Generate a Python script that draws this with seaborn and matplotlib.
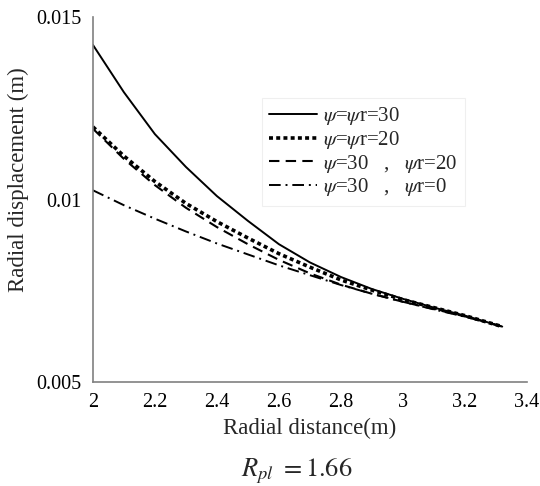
import numpy as np
import pandas as pd
import seaborn as sns
import matplotlib
matplotlib.use('Agg')
import matplotlib.pyplot as plt

# values
r = [2.0, 2.1, 2.2, 2.3, 2.4, 2.5, 2.6, 2.7, 2.8, 2.9, 3.0, 3.1, 3.2, 3.32]
u_30_30 = [0.01425, 0.01295, 0.01180, 0.01090, 0.01010, 0.00942, 0.00878, 0.00828,
           0.00788, 0.00755, 0.00728, 0.00704, 0.00682, 0.00652]
u_20_20 = [0.01200, 0.01120, 0.01050, 0.00990, 0.00940, 0.00895, 0.00852, 0.00815,
           0.00780, 0.00752, 0.00726, 0.00704, 0.00682, 0.00652]
u_30_20 = [0.01195, 0.01112, 0.01040, 0.00978, 0.00925, 0.00878, 0.00835, 0.00798,
           0.00767, 0.00742, 0.00720, 0.00700, 0.00680, 0.00652]
u_30_0 = [0.01026, 0.00985, 0.00948, 0.00913, 0.00880, 0.00850, 0.00820, 0.00793,
          0.00766, 0.00742, 0.00720, 0.00699, 0.00679, 0.00652]

labels = [r'$\psi$=$\psi$r=30', r'$\psi$=$\psi$r=20',
          r'$\psi$=30   ,   $\psi$r=20', r'$\psi$=30   ,   $\psi$r=0']
x_ticks = [2, 2.2, 2.4, 2.6, 2.8, 3, 3.2, 3.4]
x_ticklabels = ['2', '2.2', '2.4', '2.6', '2.8', '3', '3.2', '3.4']
y_ticks = [0.005, 0.01, 0.015]
y_ticklabels = ['0.005', '0.01', '0.015']

sns.set_style('white')
plt.rcParams['font.family'] = ['Liberation Serif', 'DejaVu Serif']
plt.rcParams['mathtext.fontset'] = 'stix'

fig = plt.figure(figsize=(5.4, 4.86), dpi=100)
ax = fig.add_axes([0.172, 0.214, 0.804, 0.75])

styles = [
    dict(linestyle='-', linewidth=1.4),
    dict(linestyle=(0, (1.1, 0.9)), linewidth=2.6),
    dict(linestyle=(0, (5, 3)), linewidth=1.5),
    dict(linestyle=(0, (6, 2.5, 1, 2.5)), linewidth=1.4),
]
series = [u_30_30, u_20_20, u_30_20, u_30_0]
for ys, lab, st in zip(series, labels, styles):
    df = pd.DataFrame({'r': r, 'u': ys})
    sns.lineplot(data=df, x='r', y='u', ax=ax, color='black', label=lab, **st)

ax.set_xlim(2, 3.4)
ax.set_ylim(0.005, 0.015)
ax.set_xticks(x_ticks)
ax.set_xticklabels(x_ticklabels)
ax.set_yticks(y_ticks)
ax.set_yticklabels(y_ticklabels)
ax.tick_params(direction='in', length=5, width=1.2, colors='black',
               labelsize=14.5, pad=8)

for side in ['top', 'right']:
    ax.spines[side].set_visible(False)
for side in ['left', 'bottom']:
    ax.spines[side].set_color('#808080')
    ax.spines[side].set_linewidth(1.2)

ax.set_xlabel('Radial distance(m)', fontsize=16.5, labelpad=4)
ax.set_ylabel('Radial displacement (m)', fontsize=16.5)
ax.yaxis.set_label_coords(-0.148, 0.556)

leg = ax.legend(loc='upper left', bbox_to_anchor=(262 / 540, 1 - 98 / 486),
                bbox_transform=fig.transFigure, fontsize=15, frameon=True,
                fancybox=False, handlelength=2.3, handletextpad=0.3,
                labelspacing=0.08, borderpad=0.35, borderaxespad=0)
leg.get_frame().set_edgecolor('#ececec')
leg.get_frame().set_linewidth(0.8)

fig.text(0.55, 0.031, r'$R_{pl}\ =1.66$', fontsize=19, ha='center', va='center')

fig.savefig('out.png', dpi=100)
